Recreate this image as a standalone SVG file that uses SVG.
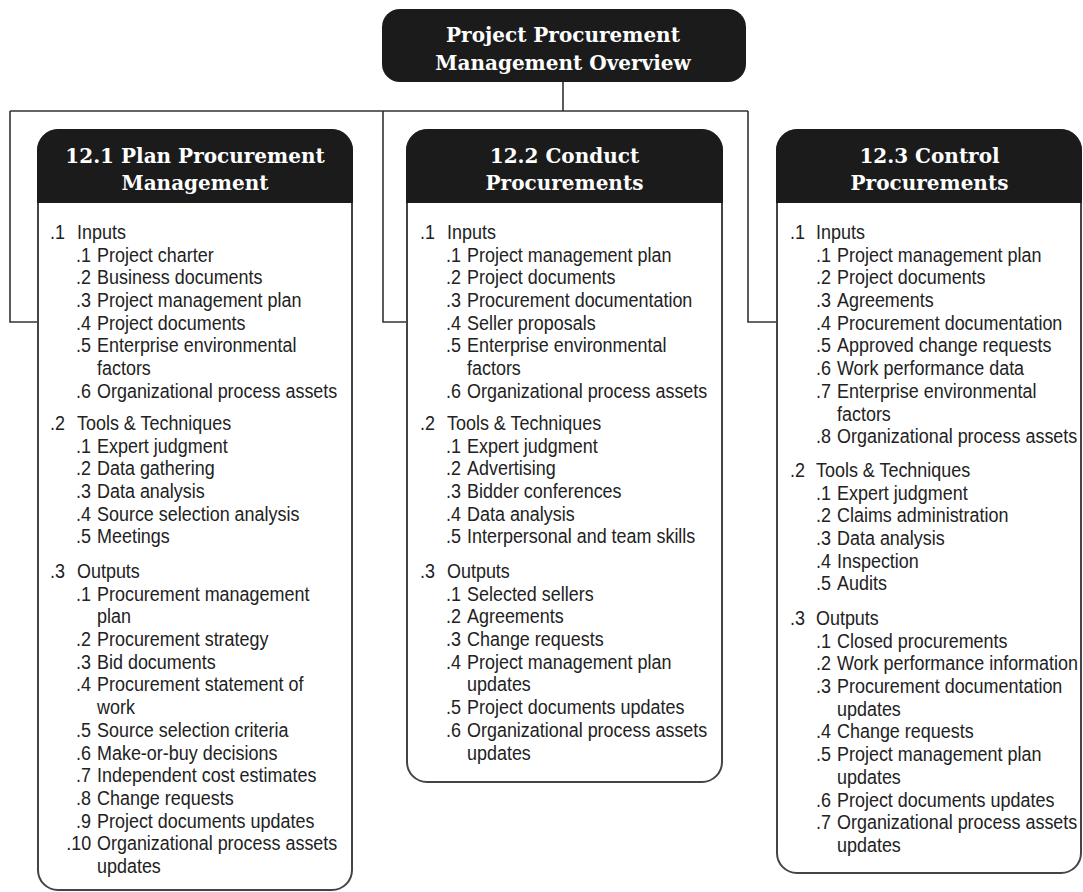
<svg xmlns="http://www.w3.org/2000/svg" width="1083" height="892" viewBox="0 0 1083 892">
<style>
.bg{fill:#ffffff}
.conn{fill:none;stroke:#333;stroke-width:1.6}
.box{fill:#fff;stroke:#444;stroke-width:2}
.hdr{fill:#1b1b1b}
.h{font-family:"DejaVu Serif","Liberation Serif",serif;font-weight:bold;font-size:20px;fill:#fff;text-anchor:middle}
.t{font-family:"Liberation Sans",Arial,sans-serif;font-size:21px;fill:#222}
</style>
<rect class="bg" x="0" y="0" width="1083" height="892"/>
<g id="connectors">
<path class="conn" d="M563,82 V111 M10,111 H748 M10,111 V322 H38 M383,111 V322 H407 M748,111 V322 H777"/>
</g>
<g id="root">
<rect class="hdr" x="382" y="9" width="364" height="73" rx="18"/>
<text class="h" x="563" y="42">Project Procurement</text>
<text class="h" x="563" y="70">Management Overview</text>
</g>
<g id="plan">
<path class="box" d="M38,150 A20,20 0 0 1 58,130 H332 A20,20 0 0 1 352,150 V870 A20,20 0 0 1 332,890 H58 A20,20 0 0 1 38,870 Z"/>
<path class="hdr" d="M37,152 A22,22 0 0 1 59,129 H331 A22,22 0 0 1 353,152 V203 H37 Z"/>
<text class="h" x="195" y="163">12.1 Plan Procurement</text>
<text class="h" x="195" y="190">Management</text>
<g class="t" transform="translate(50,0) scale(0.855,1)">
<text y="239"><tspan x="0">.1</tspan><tspan x="31.6">Inputs</tspan></text>
<text y="261.7"><tspan x="30.4">.1</tspan><tspan x="55">Project charter</tspan></text>
<text y="284.4"><tspan x="30.4">.2</tspan><tspan x="55">Business documents</tspan></text>
<text y="307.1"><tspan x="30.4">.3</tspan><tspan x="55">Project management plan</tspan></text>
<text y="329.8"><tspan x="30.4">.4</tspan><tspan x="55">Project documents</tspan></text>
<text y="352.5"><tspan x="30.4">.5</tspan><tspan x="55">Enterprise environmental</tspan></text>
<text y="375.2" x="55">factors</text>
<text y="397.9"><tspan x="30.4">.6</tspan><tspan x="55">Organizational process assets</tspan></text>
<text y="430"><tspan x="0">.2</tspan><tspan x="31.6">Tools &amp; Techniques</tspan></text>
<text y="452.7"><tspan x="30.4">.1</tspan><tspan x="55">Expert judgment</tspan></text>
<text y="475.4"><tspan x="30.4">.2</tspan><tspan x="55">Data gathering</tspan></text>
<text y="498.1"><tspan x="30.4">.3</tspan><tspan x="55">Data analysis</tspan></text>
<text y="520.8"><tspan x="30.4">.4</tspan><tspan x="55">Source selection analysis</tspan></text>
<text y="543.5"><tspan x="30.4">.5</tspan><tspan x="55">Meetings</tspan></text>
<text y="578"><tspan x="0">.3</tspan><tspan x="31.6">Outputs</tspan></text>
<text y="600.7"><tspan x="30.4">.1</tspan><tspan x="55">Procurement management</tspan></text>
<text y="623.4" x="55">plan</text>
<text y="646.1"><tspan x="30.4">.2</tspan><tspan x="55">Procurement strategy</tspan></text>
<text y="668.8"><tspan x="30.4">.3</tspan><tspan x="55">Bid documents</tspan></text>
<text y="691.5"><tspan x="30.4">.4</tspan><tspan x="55">Procurement statement of</tspan></text>
<text y="714.2" x="55">work</text>
<text y="736.9"><tspan x="30.4">.5</tspan><tspan x="55">Source selection criteria</tspan></text>
<text y="759.6"><tspan x="30.4">.6</tspan><tspan x="55">Make-or-buy decisions</tspan></text>
<text y="782.3"><tspan x="30.4">.7</tspan><tspan x="55">Independent cost estimates</tspan></text>
<text y="805"><tspan x="30.4">.8</tspan><tspan x="55">Change requests</tspan></text>
<text y="827.7"><tspan x="30.4">.9</tspan><tspan x="55">Project documents updates</tspan></text>
<text y="850.4"><tspan x="19">.10</tspan><tspan x="55">Organizational process assets</tspan></text>
<text y="873.1" x="55">updates</text>
</g>
</g>
<g id="conduct">
<path class="box" d="M407,150 A20,20 0 0 1 427,130 H702 A20,20 0 0 1 722,150 V762 A20,20 0 0 1 702,782 H427 A20,20 0 0 1 407,762 Z"/>
<path class="hdr" d="M406,152 A22,22 0 0 1 428,129 H701 A22,22 0 0 1 723,152 V203 H406 Z"/>
<text class="h" x="564.5" y="163">12.2 Conduct</text>
<text class="h" x="564.5" y="190">Procurements</text>
<g class="t" transform="translate(420,0) scale(0.855,1)">
<text y="239"><tspan x="0">.1</tspan><tspan x="31.6">Inputs</tspan></text>
<text y="261.7"><tspan x="30.4">.1</tspan><tspan x="55">Project management plan</tspan></text>
<text y="284.4"><tspan x="30.4">.2</tspan><tspan x="55">Project documents</tspan></text>
<text y="307.1"><tspan x="30.4">.3</tspan><tspan x="55">Procurement documentation</tspan></text>
<text y="329.8"><tspan x="30.4">.4</tspan><tspan x="55">Seller proposals</tspan></text>
<text y="352.5"><tspan x="30.4">.5</tspan><tspan x="55">Enterprise environmental</tspan></text>
<text y="375.2" x="55">factors</text>
<text y="397.9"><tspan x="30.4">.6</tspan><tspan x="55">Organizational process assets</tspan></text>
<text y="430"><tspan x="0">.2</tspan><tspan x="31.6">Tools &amp; Techniques</tspan></text>
<text y="452.7"><tspan x="30.4">.1</tspan><tspan x="55">Expert judgment</tspan></text>
<text y="475.4"><tspan x="30.4">.2</tspan><tspan x="55">Advertising</tspan></text>
<text y="498.1"><tspan x="30.4">.3</tspan><tspan x="55">Bidder conferences</tspan></text>
<text y="520.8"><tspan x="30.4">.4</tspan><tspan x="55">Data analysis</tspan></text>
<text y="543.5"><tspan x="30.4">.5</tspan><tspan x="55">Interpersonal and team skills</tspan></text>
<text y="578"><tspan x="0">.3</tspan><tspan x="31.6">Outputs</tspan></text>
<text y="600.7"><tspan x="30.4">.1</tspan><tspan x="55">Selected sellers</tspan></text>
<text y="623.4"><tspan x="30.4">.2</tspan><tspan x="55">Agreements</tspan></text>
<text y="646.1"><tspan x="30.4">.3</tspan><tspan x="55">Change requests</tspan></text>
<text y="668.8"><tspan x="30.4">.4</tspan><tspan x="55">Project management plan</tspan></text>
<text y="691.5" x="55">updates</text>
<text y="714.2"><tspan x="30.4">.5</tspan><tspan x="55">Project documents updates</tspan></text>
<text y="736.9"><tspan x="30.4">.6</tspan><tspan x="55">Organizational process assets</tspan></text>
<text y="759.6" x="55">updates</text>
</g>
</g>
<g id="control">
<path class="box" d="M777,150 A20,20 0 0 1 797,130 H1061 A20,20 0 0 1 1081,150 V853 A20,20 0 0 1 1061,873 H797 A20,20 0 0 1 777,853 Z"/>
<path class="hdr" d="M776,152 A22,22 0 0 1 798,129 H1060 A22,22 0 0 1 1082,152 V203 H776 Z"/>
<text class="h" x="929.5" y="163">12.3 Control</text>
<text class="h" x="929.5" y="190">Procurements</text>
<g class="t" transform="translate(790,0) scale(0.855,1)">
<text y="239"><tspan x="0">.1</tspan><tspan x="30.4">Inputs</tspan></text>
<text y="261.7"><tspan x="30.4">.1</tspan><tspan x="55">Project management plan</tspan></text>
<text y="284.4"><tspan x="30.4">.2</tspan><tspan x="55">Project documents</tspan></text>
<text y="307.1"><tspan x="30.4">.3</tspan><tspan x="55">Agreements</tspan></text>
<text y="329.8"><tspan x="30.4">.4</tspan><tspan x="55">Procurement documentation</tspan></text>
<text y="352.5"><tspan x="30.4">.5</tspan><tspan x="55">Approved change requests</tspan></text>
<text y="375.2"><tspan x="30.4">.6</tspan><tspan x="55">Work performance data</tspan></text>
<text y="397.9"><tspan x="30.4">.7</tspan><tspan x="55">Enterprise environmental</tspan></text>
<text y="420.6" x="55">factors</text>
<text y="443.3"><tspan x="30.4">.8</tspan><tspan x="55">Organizational process assets</tspan></text>
<text y="477"><tspan x="0">.2</tspan><tspan x="30.4">Tools &amp; Techniques</tspan></text>
<text y="499.7"><tspan x="30.4">.1</tspan><tspan x="55">Expert judgment</tspan></text>
<text y="522.4"><tspan x="30.4">.2</tspan><tspan x="55">Claims administration</tspan></text>
<text y="545.1"><tspan x="30.4">.3</tspan><tspan x="55">Data analysis</tspan></text>
<text y="567.8"><tspan x="30.4">.4</tspan><tspan x="55">Inspection</tspan></text>
<text y="590.5"><tspan x="30.4">.5</tspan><tspan x="55">Audits</tspan></text>
<text y="625"><tspan x="0">.3</tspan><tspan x="30.4">Outputs</tspan></text>
<text y="647.7"><tspan x="30.4">.1</tspan><tspan x="55">Closed procurements</tspan></text>
<text y="670.4"><tspan x="30.4">.2</tspan><tspan x="55">Work performance information</tspan></text>
<text y="693.1"><tspan x="30.4">.3</tspan><tspan x="55">Procurement documentation</tspan></text>
<text y="715.8" x="55">updates</text>
<text y="738.5"><tspan x="30.4">.4</tspan><tspan x="55">Change requests</tspan></text>
<text y="761.2"><tspan x="30.4">.5</tspan><tspan x="55">Project management plan</tspan></text>
<text y="783.9" x="55">updates</text>
<text y="806.6"><tspan x="30.4">.6</tspan><tspan x="55">Project documents updates</tspan></text>
<text y="829.3"><tspan x="30.4">.7</tspan><tspan x="55">Organizational process assets</tspan></text>
<text y="852" x="55">updates</text>
</g>
</g>
</svg>
